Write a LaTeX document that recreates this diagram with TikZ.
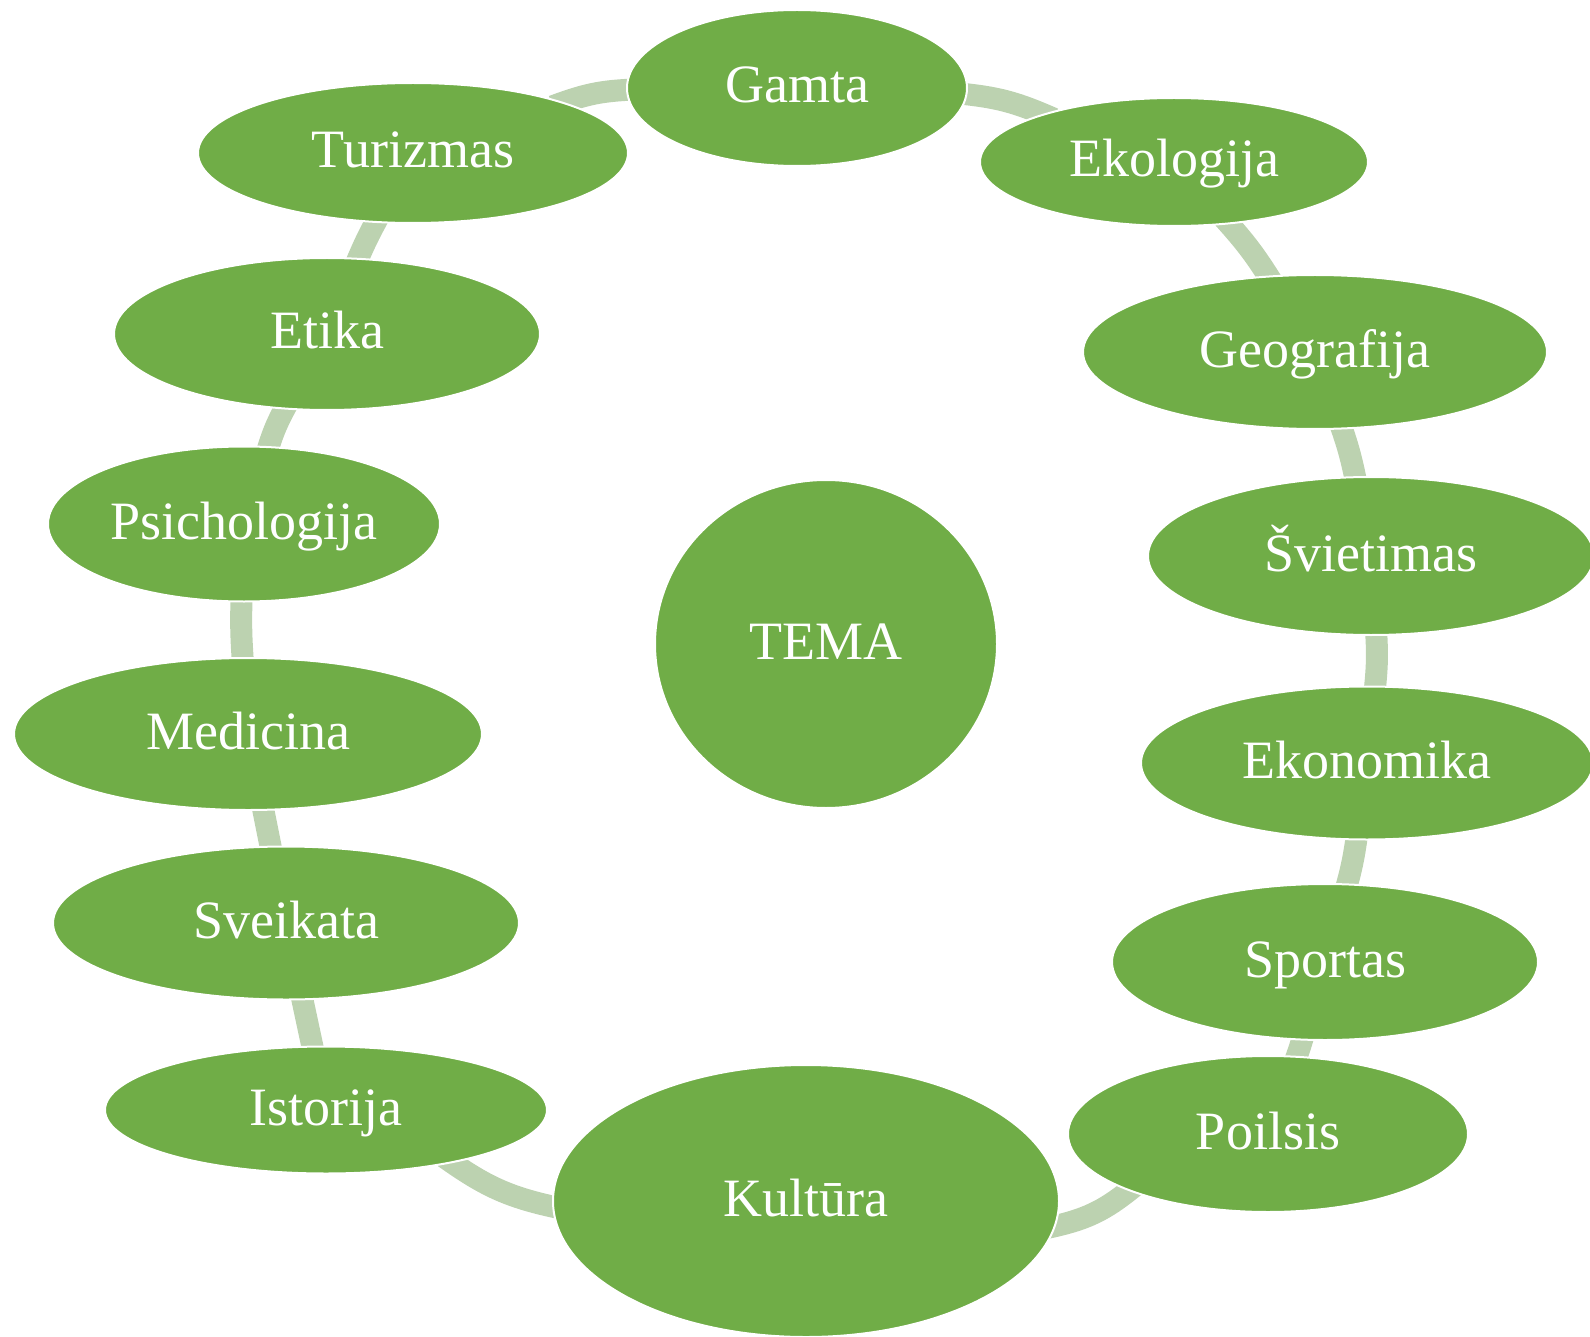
\documentclass[tikz,border=0pt]{standalone}
\usepackage{fontspec}
\setmainfont{Liberation Serif}
\usetikzlibrary{shapes.geometric}
\definecolor{nodegreen}{HTML}{70AD47}
\definecolor{linkgreen}{HTML}{BCD2B0}
\pgfdeclarelayer{background}
\pgfsetlayers{background,main}
\begin{document}
\begin{tikzpicture}[x=1pt,y=1pt,
  topic/.style={ellipse, fill=nodegreen, draw=white, line width=2pt, inner sep=0pt,
    text=white, font=\fontsize{54}{60}\selectfont, text height=42pt, text depth=12pt},
  link/.style={draw=linkgreen, line width=22pt, shorten <=-12pt, shorten >=-12pt}]
\useasboundingbox (0,0) rectangle (1590,-1337);
\node[topic, minimum width=340, minimum height=156] (gam) at (797,-88) {Gamta};
\node[topic, minimum width=388, minimum height=128] (eko) at (1174,-162) {Ekologija};
\node[topic, minimum width=464, minimum height=154] (geo) at (1315,-352) {Geografija};
\node[topic, minimum width=446, minimum height=158] (svi) at (1371,-556) {Švietimas};
\node[topic, minimum width=452, minimum height=153] (ekn) at (1367,-763) {Ekonomika};
\node[topic, minimum width=426, minimum height=156] (spo) at (1325,-962) {Sportas};
\node[topic, minimum width=400, minimum height=156] (poi) at (1268,-1134) {Poilsis};
\node[topic, minimum width=506, minimum height=272] (kul) at (806,-1201) {Kultūra};
\node[topic, minimum width=442, minimum height=127] (ist) at (326,-1110) {Istorija};
\node[topic, minimum width=466, minimum height=153] (sve) at (286,-923) {Sveikata};
\node[topic, minimum width=468, minimum height=152] (med) at (248,-734) {Medicina};
\node[topic, minimum width=392, minimum height=155] (psi) at (244,-524) {Psichologija};
\node[topic, minimum width=426, minimum height=152] (eti) at (327,-334) {Etika};
\node[topic, minimum width=430, minimum height=140] (tur) at (413,-153) {Turizmas};
\node[topic, minimum width=342, minimum height=328] (tema) at (826,-644) {TEMA};
\begin{pgfonlayer}{background}
\draw[link] (tur) to[bend left=9] (gam);
\draw[link] (gam) to[bend left=9] (eko);
\draw[link] (eko) to[bend left=5] (geo);
\draw[link] (geo) to[bend left=4] (svi);
\draw[link] (svi) to[bend left=5] (ekn);
\draw[link] (ekn) to[bend left=4] (spo);
\draw[link] (spo) to[bend left=2] (poi);
\draw[link] (poi) to[bend left=14] (kul);
\draw[link] (kul) to[bend left=12] (ist);
\draw[link] (ist) -- (sve);
\draw[link] (sve) -- (med);
\draw[link] (med) to[bend left=3] (psi);
\draw[link] (psi) to[bend left=6] (eti);
\draw[link] (eti) to[bend left=3] (tur);
\end{pgfonlayer}
\end{tikzpicture}
\end{document}
